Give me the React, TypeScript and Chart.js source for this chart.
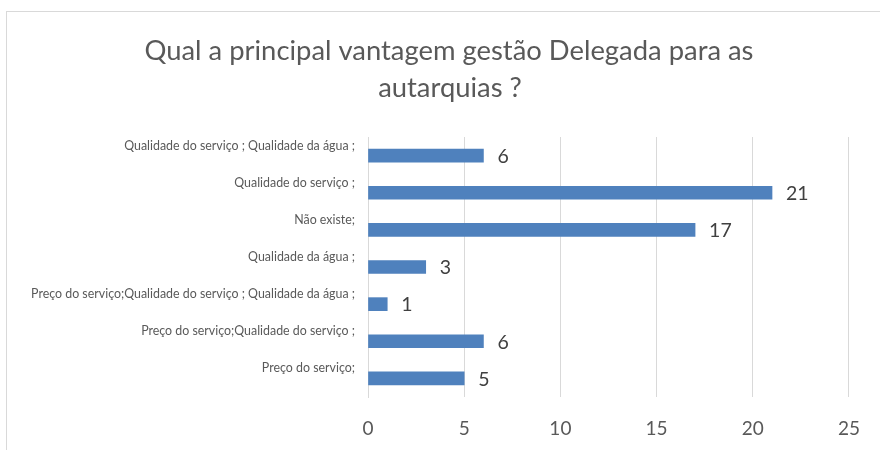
import React, { useEffect, useRef } from "react";
import { Chart, registerables } from "chart.js";

Chart.register(...registerables);

const titleLines = ["Qual a principal vantagem gestão Delegada para as", "autarquias ?"];
const categories = [
  "Qualidade do serviço ; Qualidade da água ;",
  "Qualidade do serviço ;",
  "Não existe;",
  "Qualidade da água ;",
  "Preço do serviço;Qualidade do serviço ; Qualidade da água ;",
  "Preço do serviço;Qualidade do serviço ;",
  "Preço do serviço;",
];
const values = [6, 21, 17, 3, 1, 6, 5];
const xMax = 25;
const xStep = 5;

const FONT = "Lato, 'Open Sans', sans-serif";

const borderPlugin = {
  id: "outerBorder",
  beforeDraw(chart: any) {
    const ctx = chart.ctx;
    ctx.save();
    ctx.fillStyle = "#ffffff";
    ctx.fillRect(0, 0, chart.width, chart.height);
    ctx.strokeStyle = "#d9d9d9";
    ctx.lineWidth = 1;
    ctx.strokeRect(6.5, 11.5, chart.width + 10, chart.height + 10);
    ctx.restore();
  },
};

const titlePlugin = {
  id: "customTitle",
  afterDraw(chart: any) {
    const ctx = chart.ctx;
    ctx.save();
    ctx.font = `27.4px ${FONT}`;
    ctx.fillStyle = "#595959";
    ctx.textAlign = "center";
    ctx.textBaseline = "alphabetic";
    ctx.fillText(titleLines[0], 449, 60);
    ctx.fillText(titleLines[1], 450, 97);
    ctx.restore();
  },
};

const valueLabelPlugin = {
  id: "valueLabels",
  afterDatasetsDraw(chart: any) {
    const ctx = chart.ctx;
    const meta = chart.getDatasetMeta(0);
    ctx.save();
    ctx.font = `19.5px ${FONT}`;
    ctx.fillStyle = "#404040";
    ctx.textAlign = "left";
    ctx.textBaseline = "middle";
    meta.data.forEach((bar: any, i: number) => {
      ctx.fillText(String(values[i]), bar.x + 14, bar.y + 1);
    });
    ctx.restore();
  },
};

export default function App() {
  const ref = useRef<HTMLCanvasElement>(null);
  useEffect(() => {
    if (!ref.current) return;
    const chart = new Chart(ref.current, {
      type: "bar",
      data: {
        labels: categories,
        datasets: [
          {
            data: values,
            backgroundColor: "#4f81bd",
            barThickness: 13,
          },
        ],
      },
      options: {
        indexAxis: "y",
        animation: false,
        responsive: false,
        layout: { padding: { left: 0, right: 29, top: 137, bottom: 0 } },
        plugins: {
          legend: { display: false },
          tooltip: { enabled: false },
          title: { display: false },
        },
        scales: {
          x: {
            min: 0,
            max: xMax,
            ticks: {
              stepSize: xStep,
              color: "#595959",
              font: { family: FONT, size: 19 },
              padding: 20,
            },
            grid: { color: "#d9d9d9", drawTicks: false },
            border: { display: false },
            afterFit(scale: any) {
              scale.height = 53;
            },
          },
          y: {
            ticks: {
              color: "#595959",
              font: { family: FONT, size: 12.4 },
              padding: 13,
              labelOffset: -10,
              autoSkip: false,
            },
            grid: { display: false, drawTicks: false },
            border: { display: true, color: "#d9d9d9" },
            afterFit(scale: any) {
              scale.width = 368;
            },
          },
        },
      },
      plugins: [borderPlugin, titlePlugin, valueLabelPlugin],
    });
    return () => chart.destroy();
  }, []);
  return (
    <div style={{ position: "absolute", left: 0, top: 0, width: 880, height: 450 }}>
      <canvas ref={ref} width={880} height={450} style={{ display: "block" }} />
    </div>
  );
}
